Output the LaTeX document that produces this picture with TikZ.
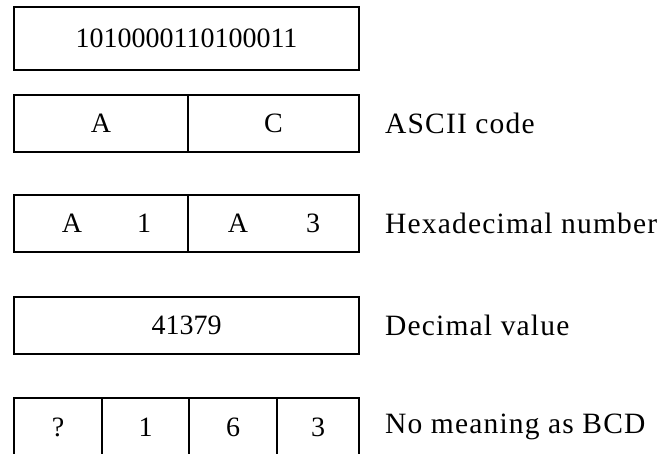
\documentclass[tikz,border=0pt]{standalone}
\usepackage{fontspec}
\setmainfont{Liberation Serif}
\newfontfamily\lblfont[LetterSpace=4]{Liberation Serif}
\begin{document}
\begin{tikzpicture}[x=1pt,y=-1pt,
  cell/.style={draw,line width=2.2pt,rectangle,inner sep=0pt,font=\fontsize{28}{30}\selectfont},
  txt/.style={inner sep=0pt,font=\fontsize{28}{30}\selectfont},
  lbl/.style={anchor=west,inner sep=0pt,font=\lblfont\fontsize{29.5}{31}\selectfont}]
\useasboundingbox (0,0) rectangle (665,454);
% row 1
\node[cell,minimum width=345pt,minimum height=63pt] (bin) at (186.5,38.5) {1010000110100011};
% row 2
\node[cell,minimum width=174pt,minimum height=57pt] (a1) at (101,123.5) {A};
\node[cell,minimum width=171pt,minimum height=57pt] (c1) at (273.5,123.5) {C};
\node[lbl] (l1) at (385,123.5) {ASCII code};
% row 3
\node[cell,minimum width=174pt,minimum height=57pt] (h1) at (101,223.5) {};
\node[cell,minimum width=171pt,minimum height=57pt] (h2) at (273.5,223.5) {};
\node[txt] (ha) at (72,223.5) {A};
\node[txt] (hb) at (144,223.5) {1};
\node[txt] (hc) at (238,223.5) {A};
\node[txt] (hd) at (313,223.5) {3};
\node[lbl] (l2) at (385,223.5) {Hexadecimal number};
% row 4
\node[cell,minimum width=345pt,minimum height=57pt] (dec) at (186.5,325.5) {41379};
\node[lbl] (l3) at (385,325.5) {Decimal value};
% row 5
\node[cell,minimum width=88pt,minimum height=58pt] (b1) at (58,427) {?};
\node[cell,minimum width=87pt,minimum height=58pt] (b2) at (145.5,427) {1};
\node[cell,minimum width=88pt,minimum height=58pt] (b3) at (233,427) {6};
\node[cell,minimum width=82pt,minimum height=58pt] (b4) at (318,427) {3};
\node[lbl] (l4) at (385,427) {No meaning as BCD};
\end{tikzpicture}
\end{document}
